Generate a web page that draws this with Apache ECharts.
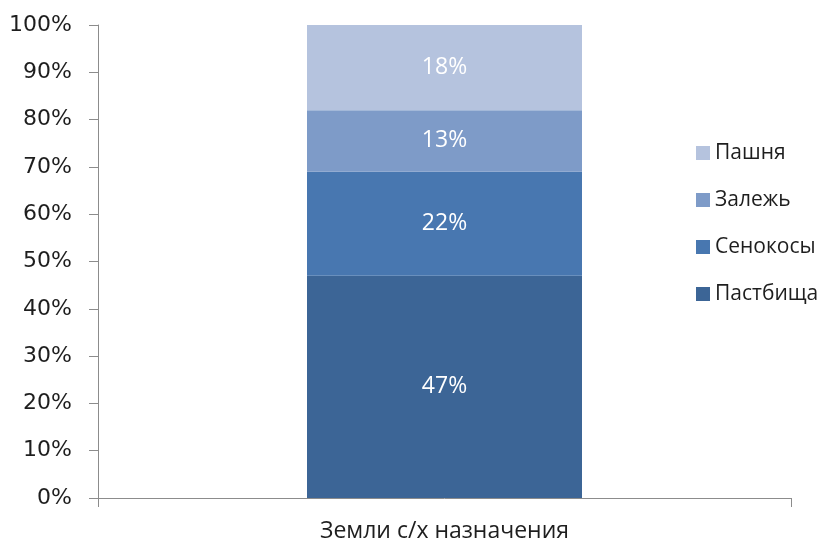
<!DOCTYPE html>
<html>
<head>
<meta charset="utf-8">
<script src="https://cdn.jsdelivr.net/npm/echarts@6/dist/echarts.min.js"></script>
<style>
  html, body { margin: 0; padding: 0; background: #fff; }
  #chart { width: 833px; height: 542px; }
</style>
</head>
<body>
<div id="chart"></div>
<script>
  // данные
  const categories = ['Земли с/х назначения']
  const seriesNames = ['Пастбища', 'Сенокосы', 'Залежь', 'Пашня']
  const pastbishcha = [47]
  const senokosy = [22]
  const zalezh = [13]
  const pashnya = [18]
  const legendOrder = ['Пашня', 'Залежь', 'Сенокосы', 'Пастбища']

  const colors = ['#3c6596', '#4877b0', '#7e9bc8', '#b5c3de']
  const values = [pastbishcha, senokosy, zalezh, pashnya]

  const myChart = echarts.init(document.getElementById('chart'))

  const option = {
    animation: false,
    grid: { left: 98, right: 42, top: 25, bottom: 44, outerBoundsMode: 'none' },
    legend: {
      data: legendOrder,
      orient: 'vertical',
      left: 691,
      top: 137,
      itemWidth: 14,
      itemHeight: 14,
      itemGap: 25,
      icon: 'rect',
      textStyle: { fontFamily: 'Open Sans', fontSize: 21, color: '#1e1e1e', lineHeight: 22 }
    },
    xAxis: {
      type: 'category',
      data: categories,
      axisLine: { lineStyle: { color: '#8c8c8c' } },
      axisTick: { show: true, length: 9, alignWithLabel: false, lineStyle: { color: '#8c8c8c' } },
      axisLabel: { fontFamily: 'Open Sans', fontSize: 23, color: '#1e1e1e', margin: 22 }
    },
    yAxis: {
      type: 'value',
      min: 0,
      max: 100,
      interval: 10,
      axisLine: { show: true, lineStyle: { color: '#8c8c8c' } },
      axisTick: { show: true, length: 9, lineStyle: { color: '#8c8c8c' } },
      splitLine: { show: false },
      axisLabel: {
        formatter: '{value}%',
        fontFamily: 'DejaVu Sans',
        fontSize: 22,
        color: '#1e1e1e',
        margin: 26
      }
    },
    series: seriesNames.map((name, i) => ({
      name: name,
      type: 'bar',
      stack: 'total',
      barWidth: 275,
      itemStyle: { color: colors[i] },
      label: {
        show: true,
        position: 'inside',
        formatter: '{c}%',
        color: '#fff',
        fontFamily: 'Open Sans',
        fontSize: 23
      },
      data: values[i]
    }))
  }

  myChart.setOption(option)
</script>
</body>
</html>
